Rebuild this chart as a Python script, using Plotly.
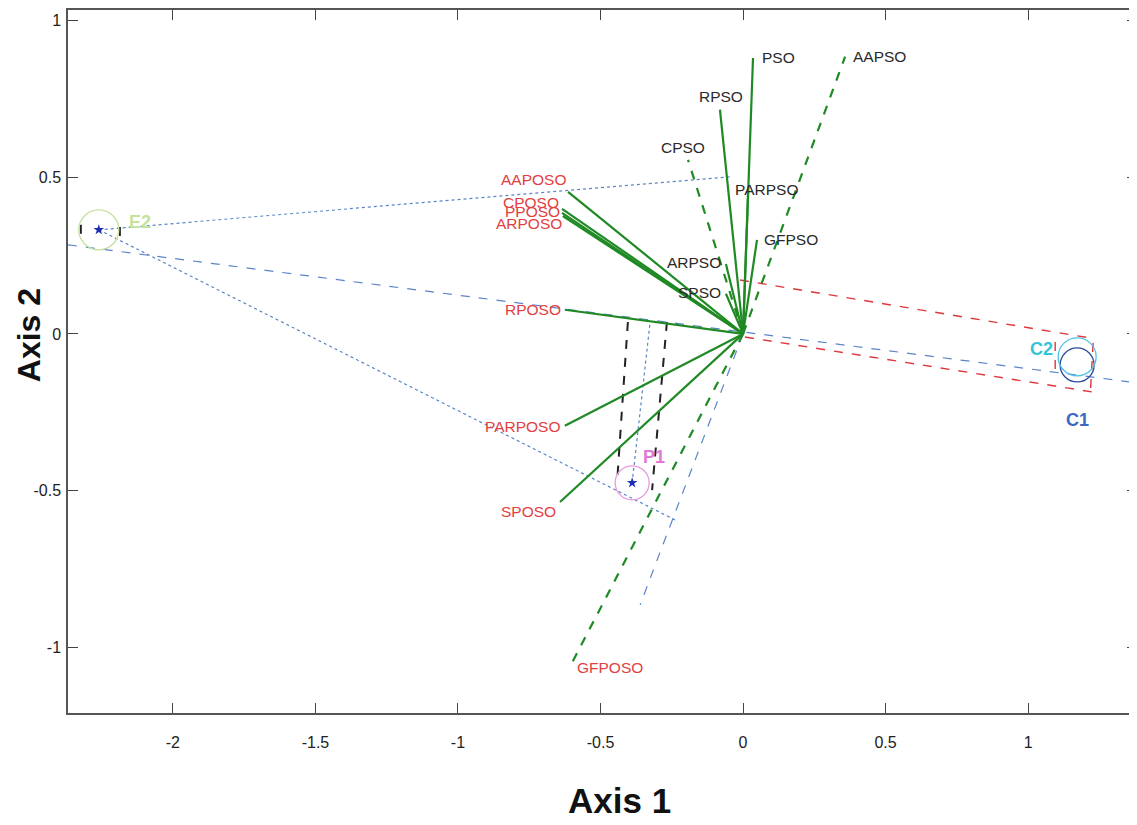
import plotly.graph_objects as go

# ---------------- data ----------------
# variable vectors (biplot arrows) : name, x, y
pso_names = ["PSO", "AAPSO", "RPSO", "CPSO", "PARPSO", "GFPSO", "ARPSO", "SPSO"]
pso_x = [0.035, 0.358, -0.081, -0.193, 0.018, 0.049, -0.060, -0.060]
pso_y = [0.880, 0.884, 0.715, 0.555, 0.459, 0.300, 0.223, 0.128]

poso_names = ["AAPOSO", "CPOSO", "PPOSO", "ARPOSO", "RPOSO", "PARPOSO", "SPOSO", "GFPOSO"]
poso_x = [-0.614, -0.635, -0.635, -0.632, -0.625, -0.625, -0.642, -0.604]
poso_y = [0.453, 0.399, 0.386, 0.376, 0.077, -0.293, -0.536, -1.056]

# group centres
group_names = ["E2", "P1", "C1", "C2"]
group_x = [-2.260, -0.389, 1.172, 1.172]
group_y = [0.332, -0.475, -0.099, -0.073]

# projection / reference lines: (x0, y0, x1, y1)
blue_dash_x0 = [-2.368, 0.0]
blue_dash_y0 = [0.284, 0.0]
blue_dash_x1 = [1.382, -0.361]
blue_dash_y1 = [-0.156, -0.864]

blue_dot_x0 = [-2.260, -2.260, -0.389]
blue_dot_y0 = [0.332, 0.332, -0.475]
blue_dot_x1 = [-0.046, -0.239, -0.326]
blue_dot_y1 = [0.501, -0.593, 0.038]

red_dash_x0 = [-0.011, 0.007, 1.095, 1.228]
red_dash_y0 = [0.172, -0.010, -0.026, -0.029]
red_dash_x1 = [1.218, 1.225, 1.095, 1.218]
red_dash_y1 = [-0.013, -0.185, -0.140, -0.195]

black_dash_x0 = [-0.404, -0.267, -2.323, -2.186]
black_dash_y0 = [0.038, 0.038, 0.348, 0.341]
black_dash_x1 = [-0.442, -0.319, -2.323, -2.186]
black_dash_y1 = [-0.475, -0.498, 0.300, 0.290]

x_ticks = [-2, -1.5, -1, -0.5, 0, 0.5, 1]
x_tick_text = ["-2", "-1.5", "-1", "-0.5", "0", "0.5", "1"]
y_ticks = [-1, -0.5, 0, 0.5, 1]
y_tick_text = ["-1", "-0.5", "0", "0.5", "1"]

# ---------------- styles ----------------
GREEN = "#1f8a24"
RED_TXT = "#e2403f"
BLUE = "#5b84c8"
pso_dash = ["solid", "dash", "solid", "dash", "solid", "solid", "solid", "solid"]
poso_dash = ["solid", "solid", "solid", "solid", "solid", "solid", "solid", "dash"]
pso_lab = [  # xanchor, xshift, yshift
    ("left", 7, 0), ("left", 6, 0), ("center", 1, 13), ("center", -5, 12),
    ("center", 18, 0), ("left", 5, 0), ("right", -3, 1), ("right", -3, 1)]
poso_lab = [
    ("right", 0, 12), ("right", -1, 6), ("right", 0, 1), ("right", 1, -7),
    ("right", -2, 0), ("right", -2, -1), ("right", -2, -10), ("left", 4, -2)]
group_col = ["#c4e39a", "#e07ad8", "#3a68c2", "#34c4d8"]
circle_col = ["#c4e0a0", "#e59be0", "#2a4c9c", "#4cc4e4"]
circle_r = [20, 17, 17, 19]
group_lab = [("left", 28, 8), ("left", 9, 26), ("center", 0, -55), ("right", -22, 8)]

fig = go.Figure()


def seg(x0, y0, x1, y1, color, dash, width):
    for a, b, c, d in zip(x0, y0, x1, y1):
        fig.add_trace(go.Scatter(x=[a, c], y=[b, d], mode="lines",
                                 line=dict(color=color, dash=dash, width=width),
                                 hoverinfo="skip", showlegend=False))


seg(blue_dash_x0, blue_dash_y0, blue_dash_x1, blue_dash_y1, BLUE, "dash", 1.2)
seg(blue_dot_x0, blue_dot_y0, blue_dot_x1, blue_dot_y1, BLUE, "dot", 1.2)
seg(red_dash_x0, red_dash_y0, red_dash_x1, red_dash_y1, "#e0353a", "dash", 1.4)
seg(black_dash_x0, black_dash_y0, black_dash_x1, black_dash_y1, "#222222", "dash", 2)

for xs, ys, dashes in ((pso_x, pso_y, pso_dash), (poso_x, poso_y, poso_dash)):
    for x, y, d in zip(xs, ys, dashes):
        fig.add_trace(go.Scatter(x=[0, x], y=[0, y], mode="lines",
                                 line=dict(color=GREEN, width=2.2, dash=d),
                                 hoverinfo="skip", showlegend=False))

# group centre markers
fig.add_trace(go.Scatter(x=group_x[:2], y=group_y[:2], mode="markers",
                         marker=dict(symbol="star", size=8, color="#1c2fb0"),
                         hoverinfo="skip", showlegend=False))

annotations = []
for names, xs, ys, labs, col in ((pso_names, pso_x, pso_y, pso_lab, "#2a2a2a"),
                                  (poso_names, poso_x, poso_y, poso_lab, RED_TXT)):
    for n, x, y, (xa, xs_, ys_) in zip(names, xs, ys, labs):
        annotations.append(dict(x=x, y=y, xref="x", yref="y", text=n, showarrow=False,
                                xanchor=xa, yanchor="middle", xshift=xs_, yshift=ys_,
                                font=dict(family="Arial", size=15.5, color=col)))

shapes = []
for n, x, y, r, cc, gc, (xa, xs_, ys_) in zip(group_names, group_x, group_y, circle_r,
                                            circle_col, group_col, group_lab):
    shapes.append(dict(type="circle", xref="x", yref="y", xsizemode="pixel",
                       ysizemode="pixel", xanchor=x, yanchor=y, x0=-r, x1=r, y0=-r, y1=r,
                       line=dict(color=cc, width=1.3)))
    annotations.append(dict(x=x, y=y, xref="x", yref="y", text="<b>%s</b>" % n,
                            showarrow=False, xanchor=xa, yanchor="middle",
                            xshift=xs_, yshift=ys_,
                            font=dict(family="Arial", size=18, color=gc)))

annotations.append(dict(x=0.516, y=-0.125, xref="paper", yref="paper", text="<b>Axis 1</b>",
                        showarrow=False, xanchor="center", yanchor="middle",
                        font=dict(family="Arial", size=35, color="#111")))
annotations.append(dict(x=-0.037, y=0.538, xref="paper", yref="paper", text="<b>Axis 2</b>",
                        showarrow=False, xanchor="center", yanchor="middle", textangle=-90,
                        font=dict(family="Arial", size=32, color="#111")))

axis_common = dict(showgrid=False, zeroline=False, showline=True, linecolor="#555",
                   linewidth=1.5, mirror="ticks", ticks="inside", ticklen=10,
                   tickwidth=1.2, tickcolor="#444", automargin=False,
                   tickfont=dict(family="Arial", size=16, color="#222"))

# the page body adds an 8 px offset, so the figure is 8 px smaller on each axis
fig.update_layout(
    width=1129, height=817,
    margin=dict(l=60, r=0, t=2, b=112),
    plot_bgcolor="white", paper_bgcolor="white",
    xaxis=dict(range=[-2.368, 1.382], tickvals=x_ticks, ticktext=x_tick_text,
               ticklabelstandoff=14, **axis_common),
    yaxis=dict(range=[-1.209, 1.033], tickvals=y_ticks, ticktext=y_tick_text,
               ticklabelstandoff=2, **axis_common),
    shapes=shapes, annotations=annotations, showlegend=False,
)

fig.write_html("out.html")
